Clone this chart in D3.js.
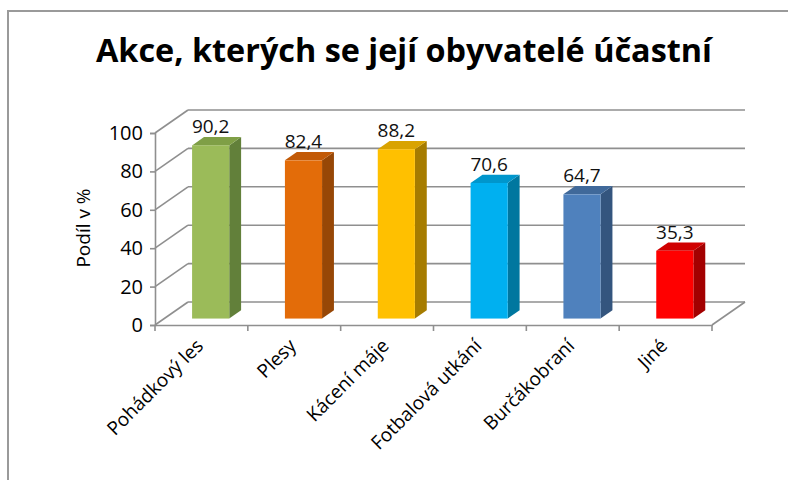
<!DOCTYPE html>
<html>
<head>
<meta charset="utf-8">
<script src="https://cdn.jsdelivr.net/npm/d3@7"></script>
<style>
  body { margin: 0; background: #fff; }
  text { font-family: "Open Sans", "Noto Sans", sans-serif; }
</style>
</head>
<body>
<script>
// data
const categories = ["Pohádkový les", "Plesy", "Kácení máje", "Fotbalová utkání", "Burčákobraní", "Jiné"];
const values = [90.2, 82.4, 88.2, 70.6, 64.7, 35.3];
const yTicks = [0, 20, 40, 60, 80, 100];

// bar colours: front / top / side
const frontColors = ["#9BBB59", "#E36C09", "#FFC000", "#00B0F0", "#4F81BD", "#FF0000"];
const topColors   = ["#7F9F46", "#C25A07", "#D9A300", "#0096CC", "#40699A", "#D00000"];
const sideColors  = ["#62803A", "#974706", "#A67C00", "#00779F", "#34557E", "#A30000"];

const width = 788, height = 480;
const depth = { dx: 33, dy: -23 };      // offset from front plane to back wall
const t0 = 0.28, t1 = 0.64;             // bar depth, as a share of the floor
const gridColor = "#8f8f8f";

const svg = d3.select("body")
    .append("svg")
    .attr("width", width)
    .attr("height", height);

svg.append("rect").attr("width", width).attr("height", height).attr("fill", "#fff");

// outer frame (only left and top visible)
svg.append("path")
    .attr("d", `M8,${height} L8,11 L${width},11`)
    .attr("fill", "none")
    .attr("stroke", "#9a9a9a")
    .attr("stroke-width", 2);

// title
svg.append("text")
    .attr("x", 404)
    .attr("y", 62)
    .attr("text-anchor", "middle")
    .attr("font-size", "32px")
    .attr("font-weight", "bold")
    .attr("textLength", 616)
    .attr("lengthAdjust", "spacingAndGlyphs")
    .attr("fill", "#000")
    .text("Akce, kterých se její obyvatelé účastní");

const x = d3.scaleBand()
    .domain(categories)
    .range([155, 712]);

const y = d3.scaleLinear()
    .domain([0, 100])
    .range([325, 133]);

const [x0, x1] = x.range();

// back wall gridlines + left wall diagonals
const grid = svg.append("g")
    .attr("stroke", gridColor)
    .attr("stroke-width", 1.6)
    .attr("fill", "none");

yTicks.forEach(t => {
    grid.append("line")
        .attr("x1", x0 + depth.dx).attr("y1", y(t) + depth.dy)
        .attr("x2", x1 + depth.dx).attr("y2", y(t) + depth.dy);
    grid.append("line")
        .attr("x1", x0).attr("y1", y(t))
        .attr("x2", x0 + depth.dx).attr("y2", y(t) + depth.dy);
});
// right floor edge
grid.append("line")
    .attr("x1", x1).attr("y1", y(0))
    .attr("x2", x1 + depth.dx).attr("y2", y(0) + depth.dy);

// y axis
const yAxis = svg.append("g")
    .attr("transform", `translate(${x0},0)`)
    .call(d3.axisLeft(y).tickValues(yTicks).tickSize(5).tickPadding(7));
yAxis.select(".domain").attr("stroke", gridColor).attr("stroke-width", 1.6);
yAxis.selectAll(".tick line").attr("stroke", gridColor).attr("stroke-width", 1.6);
yAxis.selectAll(".tick text")
    .attr("font-size", "20px")
    .attr("fill", "#000")
    .attr("font-family", "'Open Sans', sans-serif");

// x axis: line, ticks at the band edges
const xAxis = svg.append("g")
    .attr("transform", `translate(0,${y(0)})`)
    .call(d3.axisBottom(x).tickSize(0).tickFormat(""));
xAxis.select(".domain").attr("stroke", gridColor).attr("stroke-width", 1.6);

const edges = categories.map(c => x(c)).concat([x1]);
xAxis.selectAll(".edge")
    .data(edges)
    .join("line")
    .attr("x1", d => d).attr("x2", d => d)
    .attr("y1", 0).attr("y2", 6)
    .attr("stroke", gridColor)
    .attr("stroke-width", 1.6);

// category labels, rotated
svg.append("g")
    .selectAll("text")
    .data(categories)
    .join("text")
    .attr("transform", d => `translate(${x(d) + x.bandwidth() / 2 + 3},${y(0) + 22}) rotate(-45)`)
    .attr("text-anchor", "end")
    .attr("font-size", "19px")
    .attr("fill", "#000")
    .text(d => d);

// y axis title
svg.append("text")
    .attr("transform", "translate(90,228) rotate(-90)")
    .attr("text-anchor", "middle")
    .attr("font-size", "19px")
    .attr("fill", "#000")
    .text("Podíl v %");

// 3D bars
const faceW = x.bandwidth() * 0.4;
const ox = t0 * depth.dx, oy = t0 * depth.dy;
const sx = (t1 - t0) * depth.dx, sy = (t1 - t0) * depth.dy;

const bars = svg.append("g")
    .selectAll("g")
    .data(values.map((v, i) => ({ c: categories[i], v, i })))
    .join("g");

bars.each(function(d) {
    const g = d3.select(this);
    const left = x(d.c) + x.bandwidth() / 2 - faceW / 2 + ox;
    const right = left + faceW;
    const bottom = y(0) + oy;
    const top = y(d.v) + oy;

    g.append("path")
        .attr("d", `M${right},${bottom} L${right + sx},${bottom + sy} L${right + sx},${top + sy} L${right},${top} Z`)
        .attr("fill", sideColors[d.i]);
    g.append("path")
        .attr("d", `M${left},${top} L${right},${top} L${right + sx},${top + sy} L${left + sx},${top + sy} Z`)
        .attr("fill", topColors[d.i]);
    g.append("rect")
        .attr("x", left)
        .attr("y", top)
        .attr("width", faceW)
        .attr("height", bottom - top)
        .attr("fill", frontColors[d.i]);
});

// value labels
const fmt = v => d3.format(".1f")(v).replace(".", ",");
svg.append("g")
    .selectAll("text")
    .data(values.map((v, i) => ({ c: categories[i], v })))
    .join("text")
    .attr("x", d => x(d.c) + x.bandwidth() / 2 + ox)
    .attr("y", d => y(d.v) + oy - 12)
    .attr("text-anchor", "middle")
    .attr("font-size", "19px")
    .attr("fill", "#111")
    .text(d => fmt(d.v));
</script>
</body>
</html>
